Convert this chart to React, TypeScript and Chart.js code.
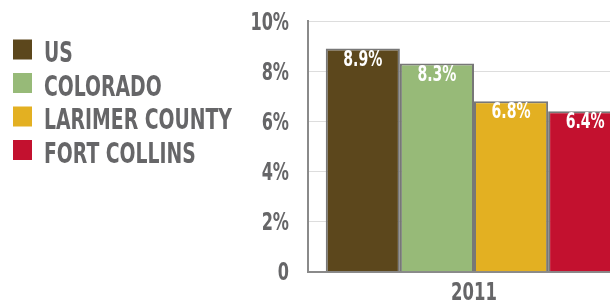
import React, { useEffect, useRef } from "react";
import { Chart, registerables } from "chart.js";

Chart.register(...registerables);

const categories = ["2011"];
const seriesNames = ["US", "COLORADO", "LARIMER COUNTY", "FORT COLLINS"];
const seriesValues = [[8.9], [8.3], [6.8], [6.4]];
const seriesColors = ["#5c471c", "#97ba78", "#e3b022", "#c3112f"];
const yTickValues = [0, 2, 4, 6, 8, 10];

const FONT_STACK = '"Liberation Sans Narrow", "DejaVu Sans Condensed", "Arial Narrow", sans-serif';
const TEXT_GRAY = "#666668";

function condenseFactor(ctx: CanvasRenderingContext2D) {
  ctx.save();
  ctx.font = `bold 100px ${FONT_STACK}`;
  const m = ctx.measureText("LARIMER COUNTY").width;
  ctx.restore();
  // reference: "LARIMER COUNTY" ~188px wide at ~28.6px font size
  return (188 / 28.6) * 100 / m;
}

function drawText(
  ctx: CanvasRenderingContext2D,
  text: string,
  x: number,
  y: number,
  size: number,
  color: string,
  align: "left" | "center" | "right",
  k: number
) {
  ctx.save();
  ctx.font = `bold ${size}px ${FONT_STACK}`;
  ctx.fillStyle = color;
  ctx.textBaseline = "alphabetic";
  const w = ctx.measureText(text).width * k;
  let left = x;
  if (align === "center") left = x - w / 2;
  else if (align === "right") left = x - w;
  ctx.translate(left, y);
  ctx.scale(k, 1);
  ctx.textAlign = "left";
  ctx.fillText(text, 0, 0);
  ctx.restore();
}

const labelPlugin = {
  id: "customLabels",
  afterDraw(chart: any) {
    const ctx = chart.ctx as CanvasRenderingContext2D;
    const k = condenseFactor(ctx);
    const yScale = chart.scales.y;
    const xScale = chart.scales.x;
    // y tick labels
    yTickValues.forEach((v) => {
      const py = yScale.getPixelForValue(v);
      const label = v === 0 ? "0" : `${v}%`;
      drawText(ctx, label, chart.chartArea.left - 19, py + 8.5, 24, TEXT_GRAY, "right", k * 1.02);
    });
    // x labels
    categories.forEach((c, i) => {
      const px = xScale.getPixelForValue(i);
      drawText(ctx, c, px, chart.chartArea.bottom + 28.5, 25.5, TEXT_GRAY, "center", k * 0.98);
    });
    // data labels
    chart.data.datasets.forEach((ds: any, di: number) => {
      const meta = chart.getDatasetMeta(di);
      meta.data.forEach((bar: any, i: number) => {
        const v = ds.data[i];
        drawText(ctx, `${v.toFixed(1)}%`, bar.x, bar.y + 17, 21, "#ffffff", "center", k * 1.02);
      });
    });
    // legend
    seriesNames.forEach((name, i) => {
      const top = 39.5 + i * 33.5;
      ctx.save();
      ctx.fillStyle = seriesColors[i];
      ctx.fillRect(13, top, 19, 20);
      ctx.restore();
      drawText(ctx, name, 44, top + 22.8, 28.6, TEXT_GRAY, "left", k);
    });
  },
};

export default function App() {
  const canvasRef = useRef<HTMLCanvasElement | null>(null);

  useEffect(() => {
    const canvas = canvasRef.current;
    if (!canvas) return;
    const chart = new Chart(canvas, {
      type: "bar",
      data: {
        labels: categories,
        datasets: seriesNames.map((name, i) => ({
          label: name,
          data: seriesValues[i],
          backgroundColor: seriesColors[i],
          borderColor: "#777777",
          borderWidth: 2,
          borderSkipped: "bottom",
          categoryPercentage: 0.893,
          barPercentage: 1,
        })),
      },
      options: {
        animation: false,
        responsive: false,
        maintainAspectRatio: false,
        layout: { padding: { left: 0, right: 0, top: 21, bottom: 0 } },
        plugins: {
          legend: { display: false },
          tooltip: { enabled: false },
          title: { display: false },
        },
        scales: {
          x: {
            type: "category",
            offset: true,
            grid: { display: false, drawTicks: false },
            border: { display: true, color: "#8a8a8a", width: 2 },
            ticks: { display: false },
            afterFit: (scale: any) => {
              scale.height = 30.3;
            },
          },
          y: {
            min: 0,
            max: 10,
            ticks: { display: false, stepSize: 2 },
            grid: { color: "#dddddd", lineWidth: 1, drawTicks: false },
            border: { display: true, color: "#8a8a8a", width: 2 },
            afterFit: (scale: any) => {
              scale.width = 308;
            },
          },
        },
      },
      plugins: [labelPlugin],
    });
    return () => chart.destroy();
  }, []);

  return (
    <div
      style={{
        position: "fixed",
        left: 0,
        top: 0,
        width: 610,
        height: 302,
        overflow: "hidden",
        background: "#ffffff",
      }}
    >
      <canvas ref={canvasRef} width={640} height={302} style={{ display: "block", width: 640, height: 302 }} />
    </div>
  );
}
